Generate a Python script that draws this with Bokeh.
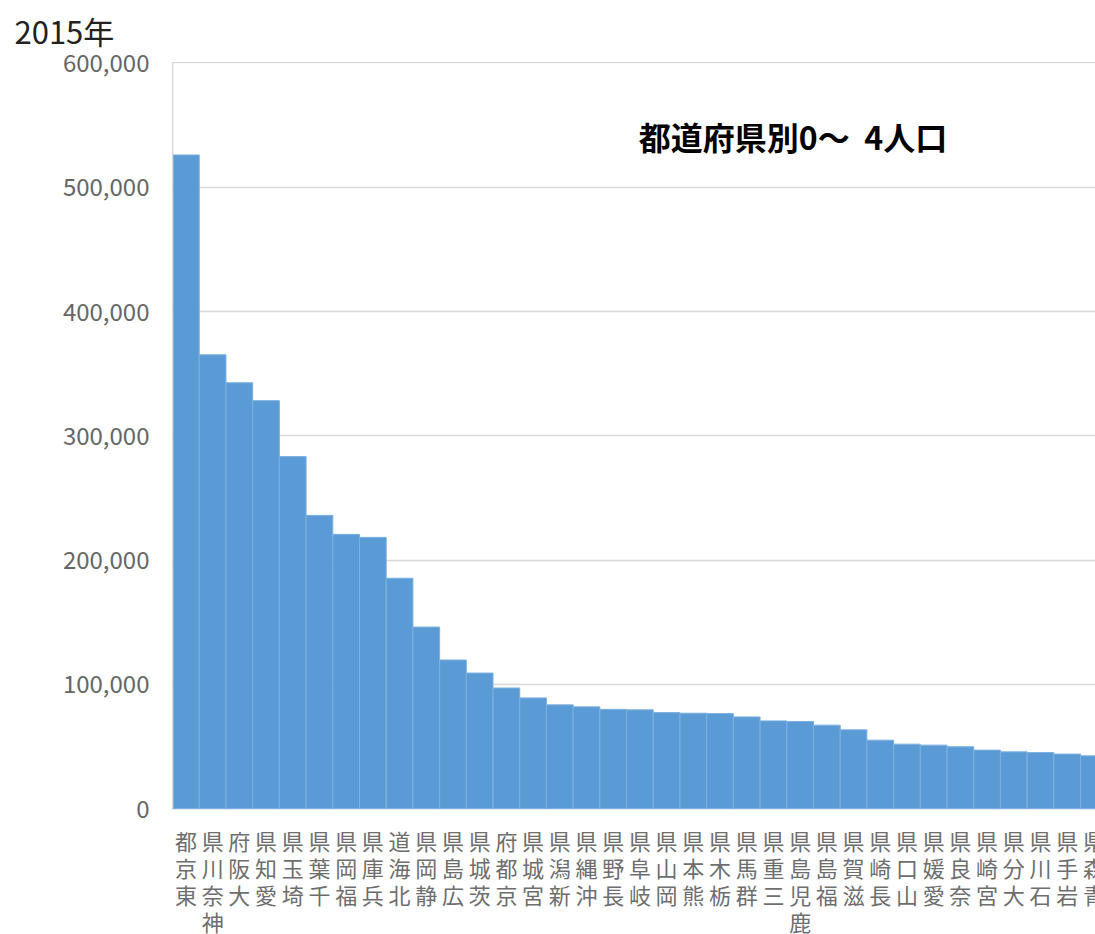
from bokeh.plotting import figure
from bokeh.models import Range1d, FixedTicker, NumeralTickFormatter, Label, Title
from bokeh.core.properties import value
from bokeh.embed import file_html
from bokeh.resources import INLINE

prefectures = ["東京都", "神奈川県", "大阪府", "愛知県", "埼玉県", "千葉県", "福岡県", "兵庫県",
               "北海道", "静岡県", "広島県", "茨城県", "京都府", "宮城県", "新潟県", "沖縄県",
               "長野県", "岐阜県", "岡山県", "熊本県", "栃木県", "群馬県", "三重県", "鹿児島県",
               "福島県", "滋賀県", "長崎県", "山口県", "愛媛県", "奈良県", "宮崎県", "大分県",
               "石川県", "岩手県", "青森県"]
population = [526000, 365200, 342700, 328300, 283300, 236000, 220700, 218300,
              185400, 146100, 119600, 109100, 97100, 89100, 83500, 81900,
              79900, 79500, 77300, 76800, 76500, 73800, 70600, 70100,
              67200, 63400, 55100, 51900, 51100, 49800, 47100, 45700,
              45200, 43900, 42500]
y_ticks = [0, 100000, 200000, 300000, 400000, 500000, 600000]
year_label = "2015年"
chart_title = "都道府県別0～\u00a0 4人口"

FONT = "Noto Sans CJK JP"
W, H = 1095, 934
TOP = 60
LEFT = 171
frame_h = H - TOP
zero_from_top = 748
y_end = 601200
units_per_px = y_end / zero_from_top
y_start = -(frame_h - zero_from_top) * units_per_px
x_start, visible_bars = -0.04, 34.56

p = figure(width=W, height=H, output_backend="svg", toolbar_location=None,
           x_range=Range1d(x_start, visible_bars), y_range=Range1d(y_start, y_end),
           min_border_top=TOP, min_border_left=LEFT, min_border_right=0, min_border_bottom=0)
p.outline_line_color = None
p.background_fill_color = "white"
p.border_fill_color = "white"

p.xaxis.visible = False
p.xgrid.visible = False
p.yaxis.ticker = FixedTicker(ticks=y_ticks)
p.yaxis.formatter = NumeralTickFormatter(format="0,0")
p.yaxis.axis_line_color = None
p.yaxis.major_tick_line_color = None
p.yaxis.minor_tick_line_color = None
p.yaxis.major_label_standoff = 16
p.yaxis.major_label_text_font = FONT
p.yaxis.major_label_text_font_size = "24px"
p.yaxis.major_label_text_color = "#666666"
p.ygrid.ticker = FixedTicker(ticks=y_ticks)
p.ygrid.grid_line_color = "#d9d9d9"
p.ygrid.grid_line_width = 1.5

xs = [i + 0.5 for i in range(len(prefectures))]
p.vbar(x=xs, top=population, bottom=0, width=1.0, fill_color="#5B9BD5",
       line_color="#7cb0e0", line_width=1)

# left axis line from 0 to 600,000
p.segment(x0=[0], y0=[0], x1=[0], y1=[y_ticks[-1]], line_color="#d9d9d9", line_width=1.5)

# stacked vertical category labels (last character on top)
cx, cy, ct = [], [], []
for i, name in enumerate(prefectures):
    n = len(name)
    for r in range(n):
        cx.append(i + 0.5)
        cy.append(-(31 + 27.0 * r) * units_per_px)
        ct.append(name[n - 1 - r])
p.text(x=cx, y=cy, text=ct, text_align="center", text_baseline="middle",
       text_font=value(FONT), text_font_size="22px", text_color="#6e6e6e")

p.add_layout(Label(x=17.46, y=541000, text=chart_title, text_font=FONT,
                   text_font_size="32px", text_font_style="bold", text_color="#000000",
                   text_baseline="middle", text_align="left"))

p.title = Title(text=year_label, text_font=FONT, text_font_size="31px",
                text_font_style="normal", text_color="#222222", align="left",
                vertical_align="top", offset=14 - LEFT, standoff=14)

open("out.html", "w").write(file_html(p, INLINE))
